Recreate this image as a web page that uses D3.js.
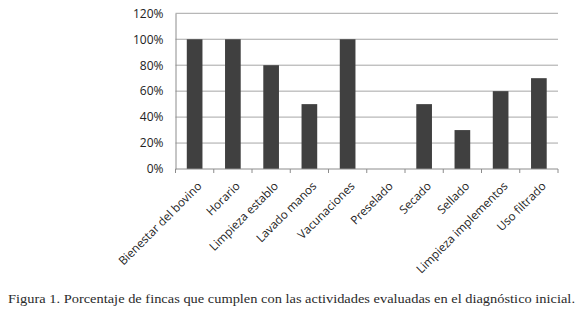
<!DOCTYPE html>
<html><head><meta charset="utf-8">
<script src="https://cdn.jsdelivr.net/npm/d3@7/dist/d3.min.js"></script>
<style>body{margin:0;background:#fff}svg{display:block}</style>
</head><body>
<svg id="c" width="580" height="316"></svg>
<script>
const categories = ["Bienestar del bovino","Horario","Limpieza establo","Lavado manos","Vacunaciones","Preselado","Secado","Sellado","Limpieza implementos","Uso filtrado"];
const values = [100,100,80,50,100,0,50,30,60,70];
const yTicks = [0,20,40,60,80,100,120];
const caption = "Figura 1. Porcentaje de fincas que cumplen con las actividades evaluadas en el diagnóstico inicial.";

const svg = d3.select("#c");
const L = 175.5, R = 558, T = 13.3, B = 169;
const x = d3.scaleBand().domain(categories).range([L, R]).paddingInner(0.59).paddingOuter(0.295);
const y = d3.scaleLinear().domain([0,120]).range([B, T]);

// gridlines
svg.append("g").selectAll("line").data(yTicks.filter(d=>d>0)).join("line")
  .attr("x1", L).attr("x2", R).attr("y1", d=>y(d)).attr("y2", d=>y(d))
  .attr("stroke", "#a6a6a6").attr("stroke-width", 1);

// bars
svg.append("g").selectAll("rect").data(values).join("rect")
  .attr("x", (d,i)=>x(categories[i])).attr("width", x.bandwidth())
  .attr("y", d=>y(d)).attr("height", d=>B - y(d))
  .attr("fill", "#404040");

// y axis
const yAxis = d3.axisLeft(y).tickValues(yTicks).tickFormat(d=>d+"%").tickSize(0).tickPadding(12);
const gy = svg.append("g").attr("transform", `translate(${L},0)`).call(yAxis);
gy.select(".domain").attr("stroke", "#8c8c8c");
gy.selectAll("text").attr("font-family", "Open Sans, sans-serif").attr("font-size", 12).attr("fill", "#222");

// x axis
const step = x.step();
const gx = svg.append("g").attr("transform", `translate(0,${B})`);
gx.append("line").attr("x1", L).attr("x2", R).attr("stroke", "#8c8c8c");
gx.selectAll("line.t").data(d3.range(categories.length+1)).join("line").attr("class","t")
  .attr("x1", i=>L+i*step).attr("x2", i=>L+i*step).attr("y1",0).attr("y2",4)
  .attr("stroke", "#8c8c8c");
gx.selectAll("text").data(categories).join("text")
  .attr("transform", d=>`translate(${x(d)+x.bandwidth()/2+2},12) rotate(-45)`)
  .attr("text-anchor", "end").attr("dy", "0.71em")
  .attr("font-family", "Open Sans, sans-serif").attr("font-size", 11.7).attr("fill", "#222")
  .text(d=>d);

// caption
svg.append("text").attr("x", 8).attr("y", 303)
  .attr("font-family", "Liberation Serif, serif").attr("font-size", 13).attr("fill", "#2a2a2a")
  .attr("textLength", 567).attr("lengthAdjust", "spacingAndGlyphs")
  .text(caption);
</script>
</body></html>
